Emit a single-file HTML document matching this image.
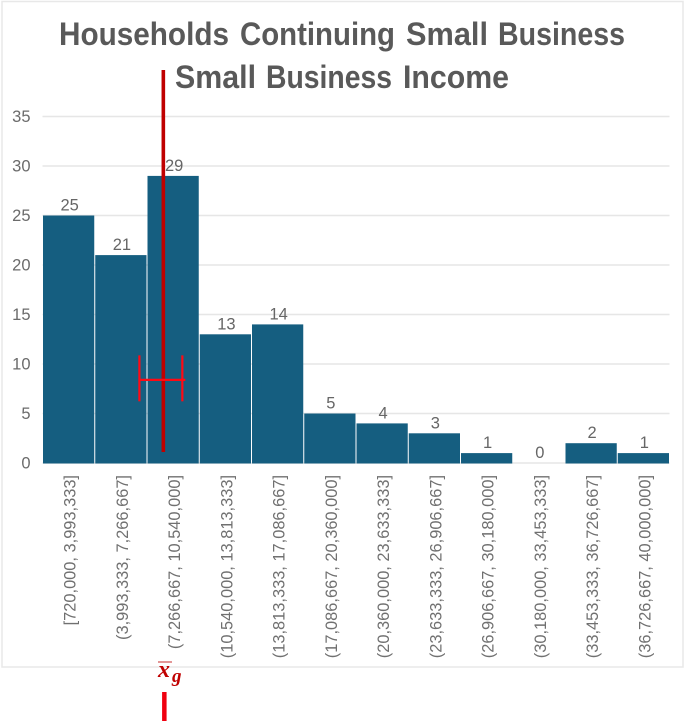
<!DOCTYPE html>
<html lang="en">
<head>
<meta charset="utf-8">
<title>Households Continuing Small Business</title>
<style>
html,body{margin:0;padding:0;background:#fff;}
svg{display:block;}
text{font-family:"Liberation Sans",sans-serif;}
.blur{filter:blur(0.35px);}
</style>
</head>
<body>
<svg id="chart" width="685" height="723" viewBox="0 0 685 723" xmlns="http://www.w3.org/2000/svg">
  <rect x="2" y="1.5" width="681" height="665.5" fill="#fff" stroke="#e8e8e8" stroke-width="1.5"/>
  <g class="blur" font-size="32" font-weight="700" fill="#595959">
    <text y="45"><tspan x="59" textLength="170" lengthAdjust="spacingAndGlyphs">Households</tspan> <tspan x="240" textLength="155" lengthAdjust="spacingAndGlyphs">Continuing</tspan> <tspan x="406" textLength="82" lengthAdjust="spacingAndGlyphs">Small</tspan> <tspan x="498" textLength="127" lengthAdjust="spacingAndGlyphs">Business</tspan></text>
    <text y="88"><tspan x="175" textLength="81" lengthAdjust="spacingAndGlyphs">Small</tspan> <tspan x="266" textLength="126" lengthAdjust="spacingAndGlyphs">Business</tspan> <tspan x="403" textLength="106" lengthAdjust="spacingAndGlyphs">Income</tspan></text>
  </g>
  <g id="grid"></g>
  <g id="yaxis" class="blur"></g>
  <g id="bars"></g>
  <g id="values" class="blur"></g>
  <g id="xaxis" class="blur"></g>
  <g id="mean"></g>
  <g fill="#c00000">
    <text x="158" y="677" font-size="24" font-weight="700" font-style="italic" style='font-family:"Liberation Serif",serif'>x</text>
    <line x1="158" x2="172" y1="662" y2="662" stroke="#d05050" stroke-width="1.2"/>
    <text x="172" y="682" font-size="19" font-weight="700" font-style="italic" style='font-family:"Liberation Serif",serif'>g</text>
  </g>
</svg>
<script>
const categories = [
  "[720,000, 3,993,333]",
  "(3,993,333, 7,266,667]",
  "(7,266,667, 10,540,000]",
  "(10,540,000, 13,813,333]",
  "(13,813,333, 17,086,667]",
  "(17,086,667, 20,360,000]",
  "(20,360,000, 23,633,333]",
  "(23,633,333, 26,906,667]",
  "(26,906,667, 30,180,000]",
  "(30,180,000, 33,453,333]",
  "(33,453,333, 36,726,667]",
  "(36,726,667, 40,000,000]"
];
const counts = [25, 21, 29, 13, 14, 5, 4, 3, 1, 0, 2, 1];
const yTicks = [0, 5, 10, 15, 20, 25, 30, 35];
const incomeRange = [720000, 40000000];
const meanIncome = 8290000;
const meanLowHigh = [6790000, 9480000];
const errorBarHeight = 8.4;

const NS = "http://www.w3.org/2000/svg";
const plotLeft = 42.5, plotRight = 669.5, plotBase = 463, plotTop = 116.5;
const yMax = 35;

function yScale(v) { return plotBase - (v / yMax) * (plotBase - plotTop); }
function bandWidth() { return (plotRight - plotLeft) / categories.length; }
function xBand(i) { return plotLeft + i * bandWidth(); }
function xIncome(v) {
  return plotLeft + (v - incomeRange[0]) / (incomeRange[1] - incomeRange[0]) * (plotRight - plotLeft);
}
function make(tag, attrs, parent, content) {
  const el = document.createElementNS(NS, tag);
  for (const k in attrs) el.setAttribute(k, attrs[k]);
  if (content !== undefined) el.textContent = content;
  parent.appendChild(el);
  return el;
}

const gridG = document.getElementById("grid");
const yG = document.getElementById("yaxis");
const barsG = document.getElementById("bars");
const valuesG = document.getElementById("values");
const xG = document.getElementById("xaxis");
const meanG = document.getElementById("mean");

yTicks.forEach(function (t) {
  const line = make("line", {x1: plotLeft, x2: plotRight, y1: yScale(t), y2: yScale(t), stroke: "#e6e6e6", "stroke-width": 1.4}, gridG);
  
  
  const label = make("text", {x: 30.5, y: yScale(t) + 5.5, "text-anchor": "end", "font-size": 16.5, fill: "#6b6b6b"}, yG, String(t));
  
  
});

counts.forEach(function (c, i) {
  const w = bandWidth();
  const cx = xBand(i) + w / 2;
  if (c > 0) {
    const bar = make("rect", {x: xBand(i) + 0.5, y: yScale(c), width: w - 1, height: plotBase - yScale(c) + 0.5, fill: "#155e80"}, barsG);
    
    
  }
  const value = make("text", {x: cx + 1, y: yScale(c) - 5, "text-anchor": "middle", "font-size": 16.5, fill: "#666"}, valuesG, String(c));
  
  
  const tx = cx + 7;
  const tick = make("text", {x: tx, y: 475, "text-anchor": "end", "font-size": 16.4, fill: "#707070", transform: "rotate(-90 " + tx + " 475)"}, xG, categories[i]);
  
  
});

const mx = xIncome(meanIncome);
const meanLine = make("line", {x1: mx, x2: mx, y1: 70, y2: 452, stroke: "#c00000", "stroke-width": 3.6}, meanG);



const errY = yScale(errorBarHeight);
const errLine = make("line", {x1: xIncome(meanLowHigh[0]), x2: xIncome(meanLowHigh[1]) + 3, y1: errY, y2: errY, stroke: "#ff0a14", "stroke-width": 2.2}, meanG);



meanLowHigh.forEach(function (v) {
  const cap = make("line", {x1: xIncome(v), x2: xIncome(v), y1: errY - 24.5, y2: errY + 21.5, stroke: "#ff0a14", "stroke-width": 2.2}, meanG);
  
  
});

const meanTick = make("line", {x1: mx + 1, x2: mx + 1, y1: 692, y2: 721, stroke: "#f00010", "stroke-width": 4.5}, meanG);


</script>
</body>
</html>
